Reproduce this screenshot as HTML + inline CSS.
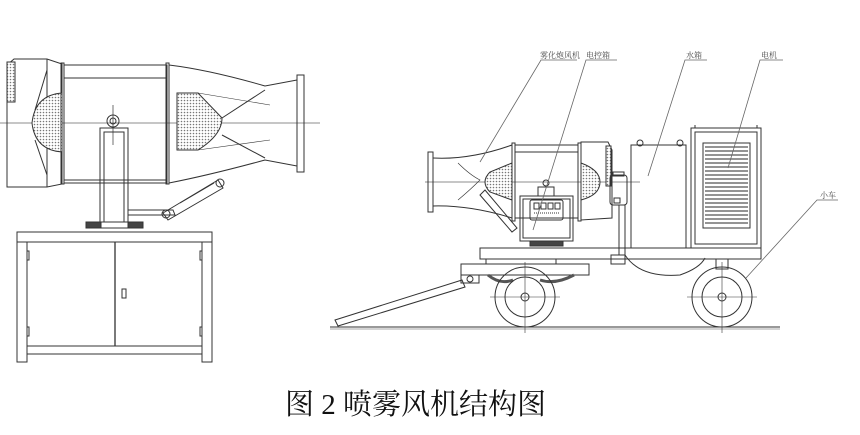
<!DOCTYPE html>
<html><head><meta charset="utf-8"><style>
html,body{margin:0;padding:0;background:#fff;width:860px;height:435px;overflow:hidden}
svg{display:block}
</style></head><body>
<svg width="860" height="435" viewBox="0 0 860 435" xmlns="http://www.w3.org/2000/svg">
<defs>
<pattern id="h" width="3" height="3" patternUnits="userSpaceOnUse"><rect width="3" height="3" fill="#fff"/><circle cx="1.5" cy="1.5" r="0.8" fill="#777"/></pattern>
</defs>
<g fill="none" stroke="#333" stroke-width="1">
<!-- LEFT MACHINE -->
<line x1="0" y1="123" x2="320" y2="123" stroke="#666" stroke-width="0.7"/>
<path d="M7,187 L7,65 L14,59 L47,59 L62,64 L62,184 L47,187 Z"/>
<rect x="7" y="62" width="8" height="40" fill="url(#h)"/>
<line x1="47" y1="59" x2="47" y2="187"/>
<line x1="47" y1="70" x2="35" y2="110"/>
<line x1="47" y1="175" x2="35" y2="140"/>
<path d="M62,93 Q35,95 32,123 Q35,150 62,152" fill="url(#h)"/>
<rect x="61" y="63" width="3" height="121"/>
<rect x="64" y="65" width="103" height="118"/>
<line x1="64" y1="78" x2="167" y2="78"/>
<line x1="64" y1="180" x2="167" y2="180"/>
<rect x="166" y="63" width="3" height="121"/>
<path d="M169,65 Q210,70 265,86 L297,80"/>
<path d="M169,183 Q210,175 265,160 L297,166"/>
<path d="M177,93 L198,93 L222,118 Q222,135 198,150 L177,150 Z" fill="url(#h)"/>
<line x1="222" y1="118" x2="265" y2="90"/>
<line x1="222" y1="135" x2="265" y2="158"/>
<path d="M198,93 L270,105 M198,150 L270,140" stroke-width="0.6"/>
<rect x="297" y="75" width="7" height="97"/>
<line x1="113" y1="105" x2="113" y2="145" stroke-width="0.7"/>
<circle cx="113" cy="121" r="6"/><circle cx="113" cy="121" r="3"/>
<rect x="100" y="128" width="28" height="94"/>
<rect x="104" y="132" width="20" height="90"/>
<rect x="86" y="222" width="57" height="6"/>
<rect x="86" y="222" width="15" height="6" fill="#444"/>
<rect x="128" y="222" width="15" height="6" fill="#444"/>
<path d="M128,210 L173,210 L175,215 L128,215"/>
<path d="M163,213 L218,180 L223,188 L168,220 Z"/>
<line x1="180" y1="203" x2="214" y2="183"/>
<circle cx="220" cy="183" r="4"/><circle cx="166" cy="214" r="4"/>
<rect x="17" y="232" width="195" height="10"/>
<rect x="17" y="242" width="10" height="120"/>
<rect x="202" y="242" width="10" height="120"/>
<rect x="27" y="242" width="175" height="104"/>
<line x1="115" y1="242" x2="115" y2="346" stroke-width="1.3"/>
<rect x="27" y="346" width="175" height="8"/>
<rect x="122" y="289" width="4" height="9"/>
<rect x="27" y="251" width="2" height="9"/><rect x="27" y="327" width="2" height="9"/>
<rect x="200" y="251" width="2" height="9"/><rect x="200" y="327" width="2" height="9"/>

<!-- RIGHT MACHINE -->
<line x1="330" y1="327" x2="780" y2="327" stroke-width="1"/>
<line x1="330" y1="329" x2="780" y2="329" stroke="#aaa"/>
<path d="M335,320 L462,280 L465,287 L338,326 Z"/>
<line x1="425" y1="182" x2="640" y2="182" stroke="#666" stroke-width="0.7"/>
<rect x="428" y="152" width="5" height="60"/>
<path d="M433,158 Q470,160 512,145 L512,218 Q470,205 433,206"/>
<path d="M458,163 Q470,175 480,180 Q470,190 458,200" stroke-width="0.6"/>
<path d="M512,163 L490,172 Q480,182 490,192 L512,200 Z" fill="url(#h)"/>
<rect x="512" y="143" width="3" height="78"/>
<rect x="515" y="145" width="63" height="73"/>
<line x1="515" y1="152" x2="578" y2="152"/>
<rect x="578" y="143" width="3" height="78"/>
<path d="M581,142 L608,142 L612,150 L612,218 L581,220 Z"/>
<path d="M581,163 Q600,170 600,182 Q600,195 581,200 Z" fill="url(#h)"/>
<rect x="606" y="146" width="5" height="40" fill="url(#h)"/>
<rect x="520" y="196" width="53" height="45"/>
<rect x="523" y="199" width="47" height="39"/>
<rect x="530" y="200" width="33" height="20" rx="2"/>
<rect x="534" y="203" width="5" height="6"/><rect x="541" y="203" width="5" height="6"/><rect x="548" y="203" width="5" height="6"/><rect x="555" y="203" width="5" height="6"/>
<line x1="534" y1="213" x2="560" y2="213" stroke-dasharray="1,1"/>
<rect x="538" y="187" width="16" height="9"/>
<circle cx="546" cy="183" r="3"/>
<rect x="530" y="241" width="33" height="5" fill="#444"/>
<path d="M480,195 L512,232 L517,228 L485,190 Z"/>
<rect x="610" y="175" width="17" height="30" rx="3"/>
<rect x="613" y="172" width="11" height="4"/>
<rect x="614" y="198" width="6" height="5"/>
<rect x="619" y="205" width="6" height="50"/>
<rect x="611" y="255" width="14" height="9"/>
<path d="M625,255 Q640,278 680,275 Q700,268 705,258"/>
<rect x="631" y="145" width="55" height="103"/>
<circle cx="640" cy="143" r="3"/><circle cx="680" cy="143" r="3"/>
<rect x="691" y="128" width="70" height="120"/>
<rect x="695" y="132" width="62" height="112"/>
<line x1="695" y1="128" x2="695" y2="125"/><line x1="757" y1="128" x2="757" y2="125"/>
<rect x="703" y="143" width="47" height="85"/>
<g stroke="#555" stroke-width="1.2">
<line x1="705" y1="147" x2="748" y2="147"/><line x1="705" y1="151" x2="748" y2="151"/><line x1="705" y1="155" x2="748" y2="155"/><line x1="705" y1="159" x2="748" y2="159"/><line x1="705" y1="163" x2="748" y2="163"/><line x1="705" y1="167" x2="748" y2="167"/><line x1="705" y1="171" x2="748" y2="171"/><line x1="705" y1="175" x2="748" y2="175"/><line x1="705" y1="179" x2="748" y2="179"/><line x1="705" y1="183" x2="748" y2="183"/><line x1="705" y1="187" x2="748" y2="187"/><line x1="705" y1="191" x2="748" y2="191"/><line x1="705" y1="195" x2="748" y2="195"/><line x1="705" y1="199" x2="748" y2="199"/><line x1="705" y1="203" x2="748" y2="203"/><line x1="705" y1="207" x2="748" y2="207"/><line x1="705" y1="211" x2="748" y2="211"/><line x1="705" y1="215" x2="748" y2="215"/><line x1="705" y1="219" x2="748" y2="219"/><line x1="705" y1="223" x2="748" y2="223"/>
</g>
<rect x="480" y="248" width="281" height="11"/>
<rect x="486" y="259" width="70" height="5"/>
<rect x="461" y="264" width="128" height="11"/>
<rect x="461" y="275" width="18" height="8"/>
<circle cx="470" cy="279" r="3"/>
<path d="M488,275 Q500,285 513,280 M540,280 Q555,285 574,275" stroke-width="3" stroke="#555"/>
<rect x="716" y="259" width="12" height="10"/>
<circle cx="525" cy="297" r="30"/><circle cx="525" cy="297" r="20"/><circle cx="525" cy="297" r="4"/>
<line x1="490" y1="297" x2="560" y2="297" stroke-width="0.6"/><line x1="525" y1="262" x2="525" y2="333" stroke-width="0.6"/>
<circle cx="722" cy="297" r="30"/><circle cx="722" cy="297" r="20"/><circle cx="722" cy="297" r="4"/>
<line x1="687" y1="297" x2="757" y2="297" stroke-width="0.6"/><line x1="722" y1="262" x2="722" y2="333" stroke-width="0.6"/>

<!-- leaders -->
<g stroke="#666" stroke-width="0.8">
<path d="M577,60 L541,60 L480,162"/>
<path d="M617,60 L586,60 L533,230"/>
<path d="M707,60 L685,60 L648,176"/>
<path d="M783,60 L760,60 L728,168"/>
<path d="M838,200 L817,200 L746,278"/>
</g>
</g>
<g font-family="Liberation Serif, 'Noto Serif CJK SC', serif" fill="#444" font-size="8">
<text x="540" y="58">雾化炮风机</text>
<text x="586" y="58">电控箱</text>
<text x="686" y="58">水箱</text>
<text x="761" y="58">电机</text>
<text x="820" y="198">小车</text>
</g>
<text x="285" y="414" font-family="Liberation Serif, 'Noto Serif CJK SC', serif" font-size="29" fill="#111">图 2 喷雾风机结构图</text>
</svg>
</body></html>
